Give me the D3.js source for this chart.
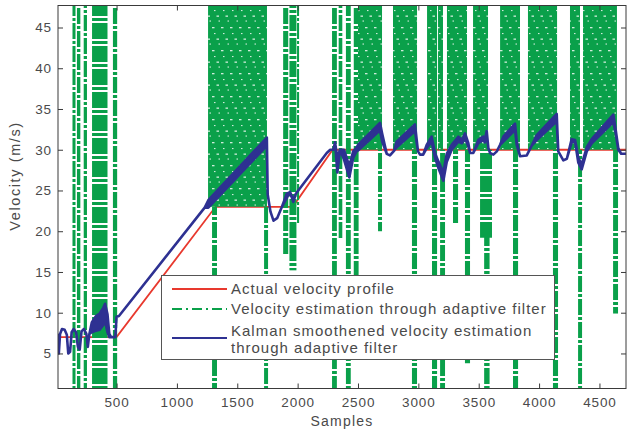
<!DOCTYPE html>
<html>
<head>
<meta charset="utf-8">
<script src="https://cdn.jsdelivr.net/npm/d3@7"></script>
<style>
  html, body { margin: 0; padding: 0; background: #fff; }
  svg text { font-family: "Liberation Sans", Arial, Helvetica, sans-serif; fill: #4a4a4a; }
</style>
</head>
<body>
<svg id="chart" width="627" height="430"></svg>
<script>
// ---- data -------------------------------------------------------------
// Actual velocity profile (sample index, m/s)
const actualSamples  = [15, 500, 1320, 1960, 2290, 4720];
const actualVelocity = [7, 7, 23, 23, 30, 30];

// Kalman smoothed estimate: lower / upper envelope of the trace
const kalmanSamples = [15, 22, 32, 48, 70, 88, 100, 115, 128, 145, 165, 180, 195, 210, 230, 250, 262, 275,
  295, 330, 360, 390, 405, 425, 440, 455, 490, 500, 520, 1230, 1260, 1745, 1752, 1775, 1800, 1830, 1870,
  1910, 1937, 1964, 1985, 2241, 2270, 2296, 2310, 2329, 2351, 2384, 2428, 2460, 2490, 2500, 2682, 2700,
  2738, 2765, 2800, 2820, 2972, 2997, 3014, 3040, 3069, 3110, 3138, 3165, 3207, 3235, 3276, 3331, 3360,
  3387, 3414, 3428, 3455, 3497, 3538, 3550, 3566, 3580, 3594, 3621, 3650, 3677, 3704, 3801, 3815, 3842,
  3898, 3939, 3981, 4146, 4159, 4201, 4230, 4270, 4298, 4325, 4353, 4395, 4436, 4615, 4635, 4656, 4680, 4720];
const kalmanLow = [7.3, 5.0, 7.4, 8.0, 7.9, 7.3, 5.0, 5.2, 7.6, 8.0, 7.6, 5.8, 5.5, 7.7, 8.0, 7.4, 5.8, 7.4,
  7.6, 7.8, 7.9, 8.5, 9.0, 7.6, 7.0, 7.0, 7.0, 9.5, 9.6, 22.9, 22.9, 30.5, 24.5, 22.4, 21.3, 21.6, 23.0,
  24.1, 24.8, 23.6, 24.6, 29.6, 30.0, 30.0, 30.9, 27.2, 30.0, 28.8, 26.6, 29.0, 29.9, 29.9, 32.4, 31.0,
  29.5, 29.3, 29.9, 30.3, 32.3, 29.8, 29.4, 29.4, 30.2, 31.0, 29.0, 27.8, 26.2, 28.5, 30.0, 31.0, 30.8,
  31.4, 30.4, 29.6, 29.6, 30.8, 31.2, 30.9, 31.8, 30.2, 29.6, 29.4, 29.8, 30.6, 31.0, 32.4, 30.6, 29.2,
  29.3, 30.5, 31.2, 33.5, 29.8, 28.7, 28.9, 30.9, 31.0, 28.4, 27.6, 29.8, 30.8, 33.4, 32.0, 30.0, 29.5, 29.5];
const kalmanHigh = [7.3, 5.0, 7.4, 8.0, 7.9, 7.3, 5.0, 5.2, 7.6, 8.0, 7.6, 5.8, 5.5, 7.7, 8.0, 7.4, 5.8, 7.4,
  8.8, 9.6, 9.9, 10.6, 11.1, 9.8, 7.4, 7.0, 7.0, 9.5, 9.6, 22.9, 23.8, 31.5, 24.5, 22.4, 21.3, 21.6, 23.0,
  24.6, 24.8, 23.9, 24.6, 29.6, 30.0, 30.0, 30.9, 29.0, 30.0, 30.0, 28.0, 29.8, 30.3, 30.6, 33.3, 32.0,
  29.5, 29.3, 29.9, 31.0, 33.1, 29.8, 29.4, 29.4, 30.6, 31.6, 29.6, 28.6, 27.2, 29.5, 30.6, 31.6, 31.2,
  32.0, 30.8, 29.6, 29.6, 31.2, 31.6, 31.2, 32.3, 30.2, 29.6, 29.4, 29.8, 30.6, 31.6, 33.2, 31.0, 29.2,
  29.3, 30.5, 31.8, 34.4, 29.8, 28.7, 28.9, 31.3, 31.2, 29.0, 28.2, 30.3, 31.3, 34.3, 32.4, 30.2, 29.5, 29.5];

// Adaptive filter estimate, intervals of rapid swinging between a floor value and saturation
const burstFrom  = [1258, 2500, 2790, 3072, 3163, 3237, 3453, 3677, 3908, 4256, 4364];
const burstTo    = [1746, 2699, 2989, 3155, 3204, 3403, 3577, 3842, 4149, 4339, 4645];
const burstFloor = [23, 30, 30, 30, 30, 30, 30, 30, 30, 30, 30];

// Adaptive filter estimate, isolated excursions (dash-dot strokes), value range covered
const strokeFrom = [135, 172, 228, 297, 470, 1291, 1722, 1880, 1932, 1995, 2285, 2340, 2400, 2465,
  2666, 2947, 3113, 3180, 3287, 3386, 3511, 3545, 3784, 4115, 4323, 4613];
const strokeTo   = [160, 200, 255, 425, 505, 1332, 1755, 1922, 1990, 2012, 2325, 2370, 2440, 2505,
  2699, 2989, 3155, 3221, 3329, 3428, 3610, 3590, 3826, 4157, 4356, 4654];
const strokeLow  = [-5, -5, -5, -5, -5, -5, -5, 17, 15.2, 21, -5, 19, -5, 14.5,
  20, -5, -5, -5, 21, 3.8, 19.2, -5, -5, -5, -5, 9.9];
const strokeHigh = [60, 60, 60, 60, 60, 23, 23, 60, 60, 60, 60, 60, 60, 60,
  30, 30, 30, 30, 30, 30, 30, 20, 30, 30, 30, 30];

const xTicks = [500, 1000, 1500, 2000, 2500, 3000, 3500, 4000, 4500];
const yTicks = [5, 10, 15, 20, 25, 30, 35, 40, 45];
const legendLabels = ["Actual velocity profile", "Velocity estimation through adaptive filter",
  ["Kalman smoothened velocity estimation", "through adaptive filter"]];

// ---- drawing ----------------------------------------------------------
const RED = "#e8392e", GREEN = "#0aa04a", BLUE = "#2e3192", FRAME = "#3a3a3a";
const plot = { left: 58, right: 626, top: 5.5, bottom: 388.5 };

const x = d3.scaleLinear().domain([15, 4720]).range([plot.left, plot.right]);
const y = d3.scaleLinear().domain([0.7, 47.7]).range([plot.bottom, plot.top]);

const svg = d3.select("#chart");
const defs = svg.append("defs");

defs.append("clipPath").attr("id", "plotClip")
  .append("rect")
  .attr("x", plot.left).attr("y", plot.top)
  .attr("width", plot.right - plot.left).attr("height", plot.bottom - plot.top);

// dash-dot textures for the single excursions, three phases so that
// neighbouring strokes do not line up their gaps
const phases = [0, 8, 15];
phases.forEach((ph, k) => {
  const p = defs.append("pattern").attr("id", "dashDot" + k)
    .attr("patternUnits", "userSpaceOnUse").attr("width", 12).attr("height", 23)
    .attr("patternTransform", `translate(0,${ph})`);
  p.append("rect").attr("width", 12).attr("height", 16).attr("fill", GREEN);
  p.append("rect").attr("y", 18).attr("width", 12).attr("height", 3).attr("fill", GREEN);
});

// dense texture: many dash-dot traces side by side, staggered
const densePat = defs.append("pattern").attr("id", "dense")
  .attr("patternUnits", "userSpaceOnUse").attr("width", 9).attr("height", 23);
densePat.append("rect").attr("width", 9).attr("height", 23).attr("fill", GREEN);
[[0.5, 15.5, 2.5, 1.3], [5, 4, 2.5, 1.3], [2.5, 20.5, 1.5, 1.1], [7, 10, 1.5, 1.1]].forEach(f => {
  densePat.append("rect").attr("x", f[0]).attr("y", f[1]).attr("width", f[2]).attr("height", f[3])
    .attr("fill", "#fff").attr("opacity", 0.8);
});

const g = svg.append("g").attr("clip-path", "url(#plotClip)");

// actual profile
const actual = actualSamples.map((s, i) => ({ s, v: actualVelocity[i] }));
g.append("path").datum(actual)
  .attr("fill", "none").attr("stroke", RED).attr("stroke-width", 1.8)
  .attr("d", d3.line().x(d => x(d.s)).y(d => y(d.v)));

// adaptive filter estimate: isolated excursions
const strokes = strokeFrom.map((s, i) => ({ a: s, b: strokeTo[i], lo: strokeLow[i], hi: strokeHigh[i] }));
g.selectAll("rect.stroke").data(strokes).join("rect")
  .attr("class", "stroke")
  .attr("x", d => x(d.a)).attr("width", d => x(d.b) - x(d.a))
  .attr("y", d => y(d.hi)).attr("height", d => y(d.lo) - y(d.hi))
  .attr("fill", (d, i) => `url(#dashDot${i % phases.length})`);

// adaptive filter estimate: dense swinging intervals
const bursts = burstFrom.map((s, i) => ({ a: s, b: burstTo[i], floor: burstFloor[i] }));
g.selectAll("rect.burst").data(bursts).join("rect")
  .attr("class", "burst")
  .attr("x", d => x(d.a)).attr("width", d => x(d.b) - x(d.a))
  .attr("y", y(60)).attr("height", d => y(d.floor) - y(60))
  .attr("fill", "url(#dense)");

// Kalman smoothed estimate
const kalman = kalmanSamples.map((s, i) => ({ s, lo: kalmanLow[i], hi: kalmanHigh[i] }));
g.append("path").datum(kalman)
  .attr("fill", BLUE).attr("stroke", BLUE).attr("stroke-width", 2.6).attr("stroke-linejoin", "round")
  .attr("d", d3.area().x(d => x(d.s)).y0(d => y(d.lo)).y1(d => y(d.hi)));

// ---- axes ---------------------------------------------------------------
const tickFont = { size: "13.5px", spacing: "0.9px" };

const xAxis = svg.append("g").attr("transform", `translate(0,${plot.bottom})`)
  .call(d3.axisBottom(x).tickValues(xTicks).tickSize(-5).tickPadding(9).tickFormat(d3.format("d")));
const xTop = svg.append("g").attr("transform", `translate(0,${plot.top})`)
  .call(d3.axisTop(x).tickValues(xTicks).tickSize(-5).tickFormat(""));
const yAxis = svg.append("g").attr("transform", `translate(${plot.left},0)`)
  .call(d3.axisLeft(y).tickValues(yTicks).tickSize(-5).tickPadding(6).tickFormat(d3.format("d")));
const yRight = svg.append("g").attr("transform", `translate(${plot.right},0)`)
  .call(d3.axisRight(y).tickValues(yTicks).tickSize(-5).tickFormat(""));

[xAxis, xTop, yAxis, yRight].forEach(a => {
  a.select(".domain").remove();
  a.selectAll(".tick line").attr("stroke", FRAME);
  a.selectAll(".tick text")
    .attr("font-family", null)
    .style("font-size", tickFont.size).style("letter-spacing", tickFont.spacing)
    .attr("fill", "#4a4a4a");
});

svg.append("rect")
  .attr("x", plot.left).attr("y", plot.top)
  .attr("width", plot.right - plot.left).attr("height", plot.bottom - plot.top)
  .attr("fill", "none").attr("stroke", FRAME).attr("stroke-width", 1);

svg.append("text")
  .attr("x", (plot.left + plot.right) / 2).attr("y", 426)
  .attr("text-anchor", "middle")
  .style("font-size", "14px").style("letter-spacing", "1.2px")
  .text("Samples");

svg.append("text")
  .attr("transform", "translate(20,176) rotate(-90)")
  .attr("text-anchor", "middle")
  .style("font-size", "14.5px").style("letter-spacing", "1.6px")
  .text("Velocity (m/s)");

// ---- legend ---------------------------------------------------------------
const legend = svg.append("g");
legend.append("rect")
  .attr("x", 161.5).attr("y", 275.5).attr("width", 393).attr("height", 84)
  .attr("fill", "#fff").attr("stroke", "#555").attr("stroke-width", 1);

const legendRows = [
  { color: RED, dash: null, ly: 289, lines: [legendLabels[0]], ty: [294] },
  { color: GREEN, dash: "10,4,2,4", ly: 309, lines: [legendLabels[1]], ty: [314] },
  { color: BLUE, dash: null, ly: 338, lines: legendLabels[2], ty: [336, 353] }
];
legendRows.forEach(r => {
  legend.append("line")
    .attr("x1", 172).attr("x2", 227).attr("y1", r.ly).attr("y2", r.ly)
    .attr("stroke", r.color).attr("stroke-width", 2)
    .attr("stroke-dasharray", r.dash);
  r.lines.forEach((t, i) => {
    legend.append("text")
      .attr("x", 231).attr("y", r.ty[i])
      .style("font-size", "15px").style("letter-spacing", "1px")
      .attr("fill", "#3c3c3c")
      .text(t);
  });
});
</script>
</body>
</html>
